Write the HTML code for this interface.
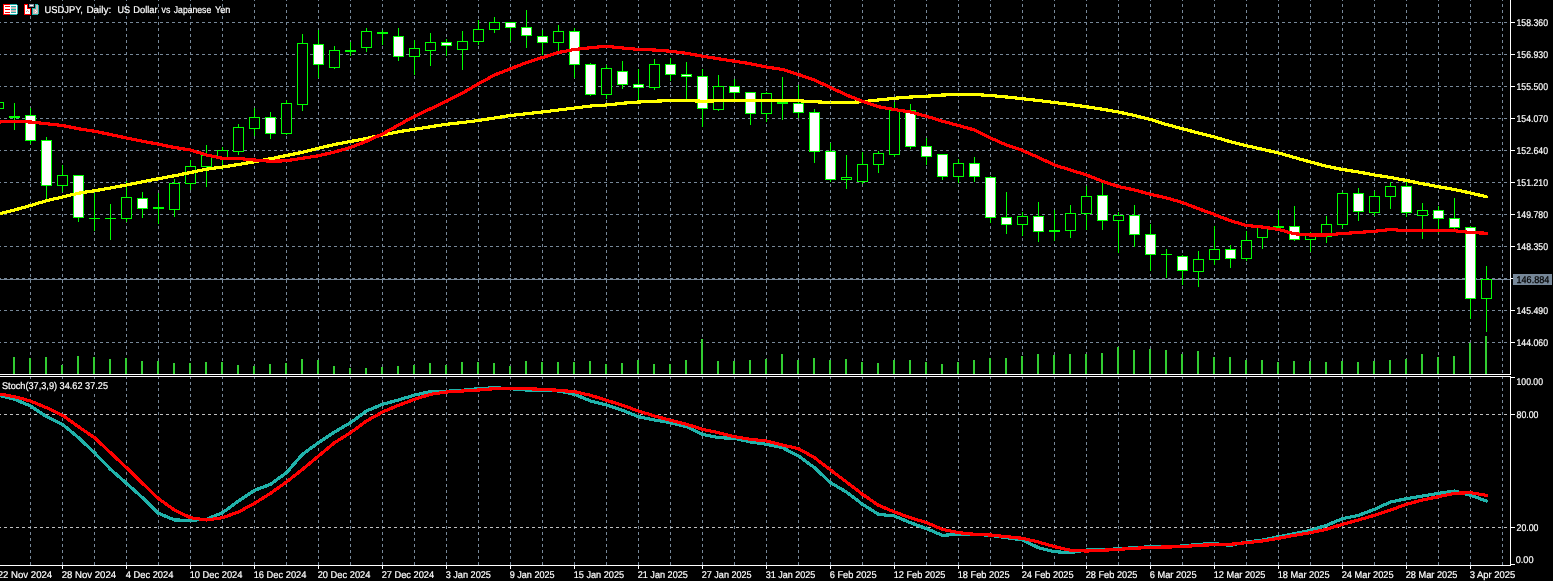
<!DOCTYPE html>
<html><head><meta charset="utf-8"><title>USDJPY, Daily</title>
<style>
html,body{margin:0;padding:0;background:#000;overflow:hidden}
svg{display:block}
text{font-family:"Liberation Sans",sans-serif;font-size:9.8px;fill:#fff;stroke:#fff;stroke-width:0.2px;text-rendering:geometricPrecision}
</style></head><body>
<svg width="1553" height="581" viewBox="0 0 1553 581">
<rect width="1553" height="581" fill="#000"/>
<g shape-rendering="crispEdges">
<g stroke="#778899" stroke-width="1" stroke-dasharray="3 3" fill="none">
<line x1="30.5" y1="-2" x2="30.5" y2="565"/>
<line x1="62.5" y1="-2" x2="62.5" y2="565"/>
<line x1="94.5" y1="-2" x2="94.5" y2="565"/>
<line x1="126.5" y1="-2" x2="126.5" y2="565"/>
<line x1="158.5" y1="-2" x2="158.5" y2="565"/>
<line x1="190.5" y1="-2" x2="190.5" y2="565"/>
<line x1="222.5" y1="-2" x2="222.5" y2="565"/>
<line x1="254.5" y1="-2" x2="254.5" y2="565"/>
<line x1="286.5" y1="-2" x2="286.5" y2="565"/>
<line x1="318.5" y1="-2" x2="318.5" y2="565"/>
<line x1="350.5" y1="-2" x2="350.5" y2="565"/>
<line x1="382.5" y1="-2" x2="382.5" y2="565"/>
<line x1="414.5" y1="-2" x2="414.5" y2="565"/>
<line x1="446.5" y1="-2" x2="446.5" y2="565"/>
<line x1="478.5" y1="-2" x2="478.5" y2="565"/>
<line x1="510.5" y1="-2" x2="510.5" y2="565"/>
<line x1="542.5" y1="-2" x2="542.5" y2="565"/>
<line x1="574.5" y1="-2" x2="574.5" y2="565"/>
<line x1="606.5" y1="-2" x2="606.5" y2="565"/>
<line x1="638.5" y1="-2" x2="638.5" y2="565"/>
<line x1="670.5" y1="-2" x2="670.5" y2="565"/>
<line x1="702.5" y1="-2" x2="702.5" y2="565"/>
<line x1="734.5" y1="-2" x2="734.5" y2="565"/>
<line x1="766.5" y1="-2" x2="766.5" y2="565"/>
<line x1="798.5" y1="-2" x2="798.5" y2="565"/>
<line x1="830.5" y1="-2" x2="830.5" y2="565"/>
<line x1="862.5" y1="-2" x2="862.5" y2="565"/>
<line x1="894.5" y1="-2" x2="894.5" y2="565"/>
<line x1="926.5" y1="-2" x2="926.5" y2="565"/>
<line x1="958.5" y1="-2" x2="958.5" y2="565"/>
<line x1="990.5" y1="-2" x2="990.5" y2="565"/>
<line x1="1022.5" y1="-2" x2="1022.5" y2="565"/>
<line x1="1054.5" y1="-2" x2="1054.5" y2="565"/>
<line x1="1086.5" y1="-2" x2="1086.5" y2="565"/>
<line x1="1118.5" y1="-2" x2="1118.5" y2="565"/>
<line x1="1150.5" y1="-2" x2="1150.5" y2="565"/>
<line x1="1182.5" y1="-2" x2="1182.5" y2="565"/>
<line x1="1214.5" y1="-2" x2="1214.5" y2="565"/>
<line x1="1246.5" y1="-2" x2="1246.5" y2="565"/>
<line x1="1278.5" y1="-2" x2="1278.5" y2="565"/>
<line x1="1310.5" y1="-2" x2="1310.5" y2="565"/>
<line x1="1342.5" y1="-2" x2="1342.5" y2="565"/>
<line x1="1374.5" y1="-2" x2="1374.5" y2="565"/>
<line x1="1406.5" y1="-2" x2="1406.5" y2="565"/>
<line x1="1438.5" y1="-2" x2="1438.5" y2="565"/>
<line x1="1470.5" y1="-2" x2="1470.5" y2="565"/>
<line x1="1502.5" y1="-2" x2="1502.5" y2="565"/>
<line x1="-2" y1="22.5" x2="1510" y2="22.5"/>
<line x1="-2" y1="54.5" x2="1510" y2="54.5"/>
<line x1="-2" y1="86.5" x2="1510" y2="86.5"/>
<line x1="-2" y1="118.5" x2="1510" y2="118.5"/>
<line x1="-2" y1="150.5" x2="1510" y2="150.5"/>
<line x1="-2" y1="182.5" x2="1510" y2="182.5"/>
<line x1="-2" y1="214.5" x2="1510" y2="214.5"/>
<line x1="-2" y1="246.5" x2="1510" y2="246.5"/>
<line x1="-2" y1="278.5" x2="1510" y2="278.5"/>
<line x1="-2" y1="310.5" x2="1510" y2="310.5"/>
<line x1="-2" y1="342.5" x2="1510" y2="342.5"/>
</g>
<g stroke="#c0c0c0" stroke-width="1" stroke-dasharray="3 3" fill="none">
<line x1="-2" y1="414.5" x2="1510" y2="414.5"/>
<line x1="-2" y1="527.5" x2="1510" y2="527.5"/>
</g>
<rect x="0" y="279" width="1510" height="1" fill="#778899"/>
<g fill="#32cd32">
<rect x="13" y="357" width="2" height="17"/>
<rect x="29" y="358" width="2" height="16"/>
<rect x="45" y="357" width="2" height="17"/>
<rect x="61" y="365" width="2" height="9"/>
<rect x="77" y="356" width="2" height="18"/>
<rect x="93" y="357" width="2" height="17"/>
<rect x="109" y="359" width="2" height="15"/>
<rect x="125" y="358" width="2" height="16"/>
<rect x="141" y="361" width="2" height="13"/>
<rect x="157" y="361" width="2" height="13"/>
<rect x="173" y="363" width="2" height="11"/>
<rect x="189" y="363" width="2" height="11"/>
<rect x="205" y="362" width="2" height="12"/>
<rect x="221" y="362" width="2" height="12"/>
<rect x="237" y="365" width="2" height="9"/>
<rect x="253" y="366" width="2" height="8"/>
<rect x="269" y="364" width="2" height="10"/>
<rect x="285" y="363" width="2" height="11"/>
<rect x="301" y="359" width="2" height="15"/>
<rect x="317" y="360" width="2" height="14"/>
<rect x="333" y="366" width="2" height="8"/>
<rect x="349" y="368" width="2" height="6"/>
<rect x="365" y="368" width="2" height="6"/>
<rect x="381" y="367" width="2" height="7"/>
<rect x="397" y="366" width="2" height="8"/>
<rect x="413" y="365" width="2" height="9"/>
<rect x="429" y="363" width="2" height="11"/>
<rect x="445" y="365" width="2" height="9"/>
<rect x="461" y="362" width="2" height="12"/>
<rect x="477" y="362" width="2" height="12"/>
<rect x="493" y="363" width="2" height="11"/>
<rect x="509" y="366" width="2" height="8"/>
<rect x="525" y="361" width="2" height="13"/>
<rect x="541" y="362" width="2" height="12"/>
<rect x="557" y="362" width="2" height="12"/>
<rect x="573" y="362" width="2" height="12"/>
<rect x="589" y="361" width="2" height="13"/>
<rect x="605" y="364" width="2" height="10"/>
<rect x="621" y="363" width="2" height="11"/>
<rect x="637" y="360" width="2" height="14"/>
<rect x="653" y="364" width="2" height="10"/>
<rect x="669" y="364" width="2" height="10"/>
<rect x="685" y="360" width="2" height="14"/>
<rect x="701" y="339" width="2" height="35"/>
<rect x="717" y="361" width="2" height="13"/>
<rect x="733" y="361" width="2" height="13"/>
<rect x="749" y="360" width="2" height="14"/>
<rect x="765" y="359" width="2" height="15"/>
<rect x="781" y="354" width="2" height="20"/>
<rect x="797" y="360" width="2" height="14"/>
<rect x="813" y="358" width="2" height="16"/>
<rect x="829" y="360" width="2" height="14"/>
<rect x="845" y="359" width="2" height="15"/>
<rect x="861" y="362" width="2" height="12"/>
<rect x="877" y="363" width="2" height="11"/>
<rect x="893" y="360" width="2" height="14"/>
<rect x="909" y="360" width="2" height="14"/>
<rect x="925" y="362" width="2" height="12"/>
<rect x="941" y="364" width="2" height="10"/>
<rect x="957" y="362" width="2" height="12"/>
<rect x="973" y="360" width="2" height="14"/>
<rect x="989" y="358" width="2" height="16"/>
<rect x="1005" y="358" width="2" height="16"/>
<rect x="1021" y="356" width="2" height="18"/>
<rect x="1037" y="354" width="2" height="20"/>
<rect x="1053" y="355" width="2" height="19"/>
<rect x="1069" y="354" width="2" height="20"/>
<rect x="1085" y="354" width="2" height="20"/>
<rect x="1101" y="353" width="2" height="21"/>
<rect x="1117" y="347" width="2" height="27"/>
<rect x="1133" y="350" width="2" height="24"/>
<rect x="1149" y="349" width="2" height="25"/>
<rect x="1165" y="350" width="2" height="24"/>
<rect x="1181" y="354" width="2" height="20"/>
<rect x="1197" y="351" width="2" height="23"/>
<rect x="1213" y="357" width="2" height="17"/>
<rect x="1229" y="357" width="2" height="17"/>
<rect x="1245" y="360" width="2" height="14"/>
<rect x="1261" y="360" width="2" height="14"/>
<rect x="1277" y="362" width="2" height="12"/>
<rect x="1293" y="361" width="2" height="13"/>
<rect x="1309" y="361" width="2" height="13"/>
<rect x="1325" y="362" width="2" height="12"/>
<rect x="1341" y="361" width="2" height="13"/>
<rect x="1357" y="362" width="2" height="12"/>
<rect x="1373" y="361" width="2" height="13"/>
<rect x="1389" y="360" width="2" height="14"/>
<rect x="1405" y="359" width="2" height="15"/>
<rect x="1421" y="354" width="2" height="20"/>
<rect x="1437" y="357" width="2" height="17"/>
<rect x="1453" y="356" width="2" height="18"/>
<rect x="1469" y="343" width="2" height="31"/>
<rect x="1485" y="336" width="2" height="38"/>
</g>
<g fill="#00ff00">
<rect x="-2" y="100" width="1" height="13"/>
<rect x="-7" y="102" width="11" height="7"/>
<rect x="-6" y="103" width="9" height="5" fill="#000"/>
<rect x="14" y="103" width="1" height="27"/>
<rect x="9" y="116" width="11" height="2"/>
<rect x="30" y="108" width="1" height="36"/>
<rect x="25" y="115" width="11" height="26"/>
<rect x="26" y="116" width="9" height="24" fill="#fff"/>
<rect x="46" y="137" width="1" height="62"/>
<rect x="41" y="140" width="11" height="46"/>
<rect x="42" y="141" width="9" height="44" fill="#fff"/>
<rect x="62" y="165" width="1" height="27"/>
<rect x="57" y="175" width="11" height="11"/>
<rect x="58" y="176" width="9" height="9" fill="#000"/>
<rect x="78" y="175" width="1" height="47"/>
<rect x="73" y="175" width="11" height="43"/>
<rect x="74" y="176" width="9" height="41" fill="#fff"/>
<rect x="94" y="193" width="1" height="38"/>
<rect x="89" y="218" width="11" height="1"/>
<rect x="110" y="204" width="1" height="36"/>
<rect x="105" y="218" width="11" height="1"/>
<rect x="126" y="181" width="1" height="41"/>
<rect x="121" y="197" width="11" height="22"/>
<rect x="122" y="198" width="9" height="20" fill="#000"/>
<rect x="142" y="192" width="1" height="26"/>
<rect x="137" y="198" width="11" height="11"/>
<rect x="138" y="199" width="9" height="9" fill="#fff"/>
<rect x="158" y="193" width="1" height="31"/>
<rect x="153" y="207" width="11" height="2"/>
<rect x="174" y="179" width="1" height="38"/>
<rect x="169" y="183" width="11" height="27"/>
<rect x="170" y="184" width="9" height="25" fill="#000"/>
<rect x="190" y="160" width="1" height="30"/>
<rect x="185" y="166" width="11" height="18"/>
<rect x="186" y="167" width="9" height="16" fill="#000"/>
<rect x="206" y="145" width="1" height="42"/>
<rect x="201" y="155" width="11" height="12"/>
<rect x="202" y="156" width="9" height="10" fill="#000"/>
<rect x="222" y="147" width="1" height="23"/>
<rect x="217" y="150" width="11" height="8"/>
<rect x="218" y="151" width="9" height="6" fill="#000"/>
<rect x="238" y="124" width="1" height="31"/>
<rect x="233" y="127" width="11" height="25"/>
<rect x="234" y="128" width="9" height="23" fill="#000"/>
<rect x="254" y="108" width="1" height="28"/>
<rect x="249" y="117" width="11" height="12"/>
<rect x="250" y="118" width="9" height="10" fill="#000"/>
<rect x="270" y="112" width="1" height="27"/>
<rect x="265" y="117" width="11" height="17"/>
<rect x="266" y="118" width="9" height="15" fill="#fff"/>
<rect x="286" y="100" width="1" height="35"/>
<rect x="281" y="103" width="11" height="31"/>
<rect x="282" y="104" width="9" height="29" fill="#000"/>
<rect x="302" y="34" width="1" height="77"/>
<rect x="297" y="43" width="11" height="62"/>
<rect x="298" y="44" width="9" height="60" fill="#000"/>
<rect x="318" y="30" width="1" height="48"/>
<rect x="313" y="44" width="11" height="21"/>
<rect x="314" y="45" width="9" height="19" fill="#fff"/>
<rect x="334" y="46" width="1" height="23"/>
<rect x="329" y="50" width="11" height="18"/>
<rect x="330" y="51" width="9" height="16" fill="#000"/>
<rect x="350" y="42" width="1" height="14"/>
<rect x="345" y="50" width="11" height="2"/>
<rect x="366" y="28" width="1" height="24"/>
<rect x="361" y="31" width="11" height="17"/>
<rect x="362" y="32" width="9" height="15" fill="#000"/>
<rect x="382" y="30" width="1" height="15"/>
<rect x="377" y="32" width="11" height="2"/>
<rect x="398" y="28" width="1" height="33"/>
<rect x="393" y="36" width="11" height="21"/>
<rect x="394" y="37" width="9" height="19" fill="#fff"/>
<rect x="414" y="40" width="1" height="35"/>
<rect x="409" y="48" width="11" height="9"/>
<rect x="410" y="49" width="9" height="7" fill="#000"/>
<rect x="430" y="33" width="1" height="33"/>
<rect x="425" y="42" width="11" height="9"/>
<rect x="426" y="43" width="9" height="7" fill="#000"/>
<rect x="446" y="39" width="1" height="17"/>
<rect x="441" y="42" width="11" height="4"/>
<rect x="442" y="43" width="9" height="2" fill="#fff"/>
<rect x="462" y="31" width="1" height="39"/>
<rect x="457" y="41" width="11" height="9"/>
<rect x="458" y="42" width="9" height="7" fill="#000"/>
<rect x="478" y="20" width="1" height="25"/>
<rect x="473" y="29" width="11" height="13"/>
<rect x="474" y="30" width="9" height="11" fill="#000"/>
<rect x="494" y="17" width="1" height="16"/>
<rect x="489" y="22" width="11" height="8"/>
<rect x="490" y="23" width="9" height="6" fill="#000"/>
<rect x="510" y="22" width="1" height="19"/>
<rect x="505" y="22" width="11" height="6"/>
<rect x="506" y="23" width="9" height="4" fill="#fff"/>
<rect x="526" y="10" width="1" height="38"/>
<rect x="521" y="27" width="11" height="9"/>
<rect x="522" y="28" width="9" height="7" fill="#fff"/>
<rect x="542" y="30" width="1" height="25"/>
<rect x="537" y="36" width="11" height="7"/>
<rect x="538" y="37" width="9" height="5" fill="#fff"/>
<rect x="558" y="25" width="1" height="26"/>
<rect x="553" y="31" width="11" height="12"/>
<rect x="554" y="32" width="9" height="10" fill="#000"/>
<rect x="574" y="28" width="1" height="50"/>
<rect x="569" y="31" width="11" height="34"/>
<rect x="570" y="32" width="9" height="32" fill="#fff"/>
<rect x="590" y="63" width="1" height="33"/>
<rect x="585" y="64" width="11" height="31"/>
<rect x="586" y="65" width="9" height="29" fill="#fff"/>
<rect x="606" y="65" width="1" height="34"/>
<rect x="601" y="68" width="11" height="27"/>
<rect x="602" y="69" width="9" height="25" fill="#000"/>
<rect x="622" y="61" width="1" height="28"/>
<rect x="617" y="71" width="11" height="14"/>
<rect x="618" y="72" width="9" height="12" fill="#fff"/>
<rect x="638" y="69" width="1" height="33"/>
<rect x="633" y="84" width="11" height="4"/>
<rect x="634" y="85" width="9" height="2" fill="#fff"/>
<rect x="654" y="59" width="1" height="31"/>
<rect x="649" y="64" width="11" height="24"/>
<rect x="650" y="65" width="9" height="22" fill="#000"/>
<rect x="670" y="58" width="1" height="23"/>
<rect x="665" y="64" width="11" height="11"/>
<rect x="666" y="65" width="9" height="9" fill="#fff"/>
<rect x="686" y="62" width="1" height="37"/>
<rect x="681" y="74" width="11" height="3"/>
<rect x="682" y="75" width="9" height="1" fill="#fff"/>
<rect x="702" y="69" width="1" height="58"/>
<rect x="697" y="76" width="11" height="33"/>
<rect x="698" y="77" width="9" height="31" fill="#fff"/>
<rect x="718" y="75" width="1" height="36"/>
<rect x="713" y="86" width="11" height="24"/>
<rect x="714" y="87" width="9" height="22" fill="#000"/>
<rect x="734" y="79" width="1" height="20"/>
<rect x="729" y="86" width="11" height="7"/>
<rect x="730" y="87" width="9" height="5" fill="#fff"/>
<rect x="750" y="92" width="1" height="33"/>
<rect x="745" y="92" width="11" height="22"/>
<rect x="746" y="93" width="9" height="20" fill="#fff"/>
<rect x="766" y="92" width="1" height="30"/>
<rect x="761" y="93" width="11" height="21"/>
<rect x="762" y="94" width="9" height="19" fill="#000"/>
<rect x="782" y="77" width="1" height="43"/>
<rect x="777" y="102" width="11" height="2"/>
<rect x="798" y="85" width="1" height="33"/>
<rect x="793" y="103" width="11" height="10"/>
<rect x="794" y="104" width="9" height="8" fill="#fff"/>
<rect x="814" y="109" width="1" height="54"/>
<rect x="809" y="112" width="11" height="40"/>
<rect x="810" y="113" width="9" height="38" fill="#fff"/>
<rect x="830" y="143" width="1" height="39"/>
<rect x="825" y="151" width="11" height="29"/>
<rect x="826" y="152" width="9" height="27" fill="#fff"/>
<rect x="846" y="155" width="1" height="34"/>
<rect x="841" y="177" width="11" height="3"/>
<rect x="842" y="178" width="9" height="1" fill="#000"/>
<rect x="862" y="152" width="1" height="32"/>
<rect x="857" y="164" width="11" height="18"/>
<rect x="858" y="165" width="9" height="16" fill="#000"/>
<rect x="878" y="151" width="1" height="22"/>
<rect x="873" y="153" width="11" height="12"/>
<rect x="874" y="154" width="9" height="10" fill="#000"/>
<rect x="894" y="102" width="1" height="55"/>
<rect x="889" y="110" width="11" height="45"/>
<rect x="890" y="111" width="9" height="43" fill="#000"/>
<rect x="910" y="104" width="1" height="45"/>
<rect x="905" y="110" width="11" height="37"/>
<rect x="906" y="111" width="9" height="35" fill="#fff"/>
<rect x="926" y="138" width="1" height="27"/>
<rect x="921" y="146" width="11" height="11"/>
<rect x="922" y="147" width="9" height="9" fill="#fff"/>
<rect x="942" y="154" width="1" height="26"/>
<rect x="937" y="154" width="11" height="23"/>
<rect x="938" y="155" width="9" height="21" fill="#fff"/>
<rect x="958" y="159" width="1" height="24"/>
<rect x="953" y="163" width="11" height="14"/>
<rect x="954" y="164" width="9" height="12" fill="#000"/>
<rect x="974" y="157" width="1" height="25"/>
<rect x="969" y="163" width="11" height="14"/>
<rect x="970" y="164" width="9" height="12" fill="#fff"/>
<rect x="990" y="176" width="1" height="47"/>
<rect x="985" y="177" width="11" height="41"/>
<rect x="986" y="178" width="9" height="39" fill="#fff"/>
<rect x="1006" y="192" width="1" height="42"/>
<rect x="1001" y="217" width="11" height="8"/>
<rect x="1002" y="218" width="9" height="6" fill="#fff"/>
<rect x="1022" y="212" width="1" height="24"/>
<rect x="1017" y="216" width="11" height="9"/>
<rect x="1018" y="217" width="9" height="7" fill="#000"/>
<rect x="1038" y="202" width="1" height="40"/>
<rect x="1033" y="216" width="11" height="16"/>
<rect x="1034" y="217" width="9" height="14" fill="#fff"/>
<rect x="1054" y="210" width="1" height="31"/>
<rect x="1049" y="230" width="11" height="2"/>
<rect x="1070" y="205" width="1" height="33"/>
<rect x="1065" y="213" width="11" height="18"/>
<rect x="1066" y="214" width="9" height="16" fill="#000"/>
<rect x="1086" y="186" width="1" height="44"/>
<rect x="1081" y="196" width="11" height="18"/>
<rect x="1082" y="197" width="9" height="16" fill="#000"/>
<rect x="1102" y="183" width="1" height="47"/>
<rect x="1097" y="195" width="11" height="26"/>
<rect x="1098" y="196" width="9" height="24" fill="#fff"/>
<rect x="1118" y="212" width="1" height="41"/>
<rect x="1113" y="215" width="11" height="6"/>
<rect x="1114" y="216" width="9" height="4" fill="#000"/>
<rect x="1134" y="205" width="1" height="42"/>
<rect x="1129" y="215" width="11" height="20"/>
<rect x="1130" y="216" width="9" height="18" fill="#fff"/>
<rect x="1150" y="224" width="1" height="47"/>
<rect x="1145" y="234" width="11" height="21"/>
<rect x="1146" y="235" width="9" height="19" fill="#fff"/>
<rect x="1166" y="249" width="1" height="29"/>
<rect x="1161" y="254" width="11" height="1"/>
<rect x="1182" y="255" width="1" height="30"/>
<rect x="1177" y="256" width="11" height="15"/>
<rect x="1178" y="257" width="9" height="13" fill="#fff"/>
<rect x="1198" y="251" width="1" height="36"/>
<rect x="1193" y="259" width="11" height="13"/>
<rect x="1194" y="260" width="9" height="11" fill="#000"/>
<rect x="1214" y="226" width="1" height="39"/>
<rect x="1209" y="249" width="11" height="11"/>
<rect x="1210" y="250" width="9" height="9" fill="#000"/>
<rect x="1230" y="245" width="1" height="23"/>
<rect x="1225" y="249" width="11" height="10"/>
<rect x="1226" y="250" width="9" height="8" fill="#fff"/>
<rect x="1246" y="231" width="1" height="30"/>
<rect x="1241" y="240" width="11" height="19"/>
<rect x="1242" y="241" width="9" height="17" fill="#000"/>
<rect x="1262" y="225" width="1" height="24"/>
<rect x="1257" y="226" width="11" height="12"/>
<rect x="1258" y="227" width="9" height="10" fill="#000"/>
<rect x="1278" y="210" width="1" height="20"/>
<rect x="1273" y="226" width="11" height="2"/>
<rect x="1294" y="206" width="1" height="35"/>
<rect x="1289" y="226" width="11" height="14"/>
<rect x="1290" y="227" width="9" height="12" fill="#fff"/>
<rect x="1310" y="232" width="1" height="20"/>
<rect x="1305" y="234" width="11" height="6"/>
<rect x="1306" y="235" width="9" height="4" fill="#000"/>
<rect x="1326" y="216" width="1" height="27"/>
<rect x="1321" y="224" width="11" height="13"/>
<rect x="1322" y="225" width="9" height="11" fill="#000"/>
<rect x="1342" y="192" width="1" height="36"/>
<rect x="1337" y="193" width="11" height="32"/>
<rect x="1338" y="194" width="9" height="30" fill="#000"/>
<rect x="1358" y="188" width="1" height="33"/>
<rect x="1353" y="193" width="11" height="19"/>
<rect x="1354" y="194" width="9" height="17" fill="#fff"/>
<rect x="1374" y="191" width="1" height="25"/>
<rect x="1369" y="196" width="11" height="17"/>
<rect x="1370" y="197" width="9" height="15" fill="#000"/>
<rect x="1390" y="182" width="1" height="27"/>
<rect x="1385" y="186" width="11" height="11"/>
<rect x="1386" y="187" width="9" height="9" fill="#000"/>
<rect x="1406" y="182" width="1" height="35"/>
<rect x="1401" y="186" width="11" height="27"/>
<rect x="1402" y="187" width="9" height="25" fill="#fff"/>
<rect x="1422" y="203" width="1" height="36"/>
<rect x="1417" y="210" width="11" height="6"/>
<rect x="1418" y="211" width="9" height="4" fill="#000"/>
<rect x="1438" y="206" width="1" height="27"/>
<rect x="1433" y="210" width="11" height="9"/>
<rect x="1434" y="211" width="9" height="7" fill="#fff"/>
<rect x="1454" y="198" width="1" height="31"/>
<rect x="1449" y="218" width="11" height="10"/>
<rect x="1450" y="219" width="9" height="8" fill="#fff"/>
<rect x="1470" y="226" width="1" height="93"/>
<rect x="1465" y="227" width="11" height="72"/>
<rect x="1466" y="228" width="9" height="70" fill="#fff"/>
<rect x="1486" y="266" width="1" height="66"/>
<rect x="1481" y="279" width="11" height="20"/>
<rect x="1482" y="280" width="9" height="18" fill="#000"/>
</g>
<polyline points="-1.5,214.00 14.5,210.00 30.5,205.50 46.5,200.70 62.5,197.00 78.5,193.20 94.5,190.75 110.5,188.00 126.5,185.00 142.5,181.75 158.5,178.75 174.5,175.75 190.5,172.50 206.5,169.25 222.5,167.00 238.5,164.50 254.5,161.75 270.5,158.75 286.5,155.50 302.5,152.30 318.5,148.20 334.5,144.50 350.5,141.50 366.5,138.40 382.5,135.00 398.5,131.75 414.5,129.25 430.5,126.75 446.5,124.25 462.5,122.50 478.5,120.50 494.5,118.00 510.5,115.50 526.5,113.75 542.5,112.00 558.5,110.00 574.5,108.00 590.5,106.00 606.5,105.00 622.5,103.25 638.5,102.00 654.5,101.25 670.5,100.50 686.5,100.50 702.5,101.25 718.5,100.75 734.5,100.75 750.5,100.75 766.5,100.75 782.5,100.75 798.5,100.75 814.5,101.75 830.5,102.50 846.5,102.50 862.5,101.75 878.5,100.00 894.5,98.25 910.5,97.00 926.5,96.25 942.5,95.00 958.5,94.50 974.5,94.50 990.5,95.50 1006.5,97.00 1022.5,98.75 1038.5,100.50 1054.5,102.50 1070.5,104.50 1086.5,106.75 1102.5,109.25 1118.5,112.00 1134.5,115.50 1150.5,119.50 1166.5,124.50 1182.5,128.75 1198.5,133.00 1214.5,137.00 1230.5,141.75 1246.5,145.75 1262.5,149.25 1278.5,153.00 1294.5,157.50 1310.5,162.00 1326.5,166.25 1342.5,169.50 1358.5,172.00 1374.5,175.00 1390.5,177.50 1406.5,180.50 1422.5,183.75 1438.5,186.75 1454.5,189.50 1470.5,193.00 1486.5,196.75" fill="none" stroke="#ffff00" stroke-width="3.2" stroke-linejoin="round" stroke-linecap="round"/>
<polyline points="-1.5,122.00 14.5,121.25 30.5,122.00 46.5,123.75 62.5,125.50 78.5,128.75 94.5,131.25 110.5,134.50 126.5,138.00 142.5,141.25 158.5,144.25 174.5,147.50 190.5,150.00 206.5,155.00 222.5,158.30 238.5,158.50 254.5,160.00 270.5,161.25 286.5,160.75 302.5,158.25 318.5,155.75 334.5,152.00 350.5,147.50 366.5,141.25 382.5,134.00 398.5,125.00 414.5,116.25 430.5,108.75 446.5,101.25 462.5,93.00 478.5,83.75 494.5,75.00 510.5,68.75 526.5,62.50 542.5,57.50 558.5,52.50 574.5,49.50 590.5,47.75 606.5,46.25 622.5,48.00 638.5,49.40 654.5,50.00 670.5,51.25 686.5,53.25 702.5,56.25 718.5,58.75 734.5,61.25 750.5,63.75 766.5,67.00 782.5,69.50 798.5,74.50 814.5,80.00 830.5,87.50 846.5,95.00 862.5,101.25 878.5,106.75 894.5,109.50 910.5,112.00 926.5,116.25 942.5,121.25 958.5,125.50 974.5,130.00 990.5,138.00 1006.5,145.00 1022.5,150.50 1038.5,157.50 1054.5,165.00 1070.5,170.00 1086.5,175.00 1102.5,181.25 1118.5,186.50 1134.5,190.00 1150.5,194.25 1166.5,198.00 1182.5,202.50 1198.5,208.75 1214.5,214.50 1230.5,220.75 1246.5,225.50 1262.5,227.00 1278.5,229.50 1294.5,233.75 1310.5,235.00 1326.5,235.00 1342.5,233.50 1358.5,232.50 1374.5,231.25 1390.5,229.50 1406.5,230.75 1422.5,230.75 1438.5,230.75 1454.5,230.75 1470.5,232.50 1486.5,233.25" fill="none" stroke="#ff0000" stroke-width="3.2" stroke-linejoin="round" stroke-linecap="round"/>
<polyline points="-1.5,395.30 14.5,399.30 30.5,406.00 46.5,416.70 62.5,424.30 78.5,437.70 94.5,452.70 110.5,469.30 126.5,483.30 142.5,497.70 158.5,513.30 174.5,520.00 190.5,520.30 206.5,519.30 222.5,512.70 238.5,501.00 254.5,490.30 270.5,484.30 286.5,472.70 302.5,454.30 318.5,442.70 334.5,432.00 350.5,422.70 366.5,411.00 382.5,404.30 398.5,400.00 414.5,395.00 430.5,391.70 446.5,391.30 462.5,390.30 478.5,388.70 494.5,387.70 510.5,388.70 526.5,390.00 542.5,390.00 558.5,391.00 574.5,394.30 590.5,401.00 606.5,405.00 622.5,410.30 638.5,416.70 654.5,420.00 670.5,422.70 686.5,426.70 702.5,434.30 718.5,437.70 734.5,438.30 750.5,442.00 766.5,444.30 782.5,447.70 798.5,456.00 814.5,467.70 830.5,482.70 846.5,492.00 862.5,504.30 878.5,514.30 894.5,516.00 910.5,522.70 926.5,528.70 942.5,535.30 958.5,534.30 974.5,534.30 990.5,535.30 1006.5,537.70 1022.5,540.00 1038.5,547.70 1054.5,551.70 1070.5,552.70 1086.5,550.00 1102.5,550.00 1118.5,548.70 1134.5,547.70 1150.5,546.70 1166.5,546.70 1182.5,546.00 1198.5,544.30 1214.5,543.70 1230.5,545.30 1246.5,542.00 1262.5,540.00 1278.5,536.70 1294.5,533.70 1310.5,530.30 1326.5,525.30 1342.5,518.70 1358.5,515.30 1374.5,509.30 1390.5,502.00 1406.5,498.70 1422.5,496.00 1438.5,493.30 1454.5,491.00 1470.5,495.30 1486.5,501.00" fill="none" stroke="#20b2aa" stroke-width="3.2" stroke-linejoin="round" stroke-linecap="round"/>
<polyline points="-1.5,393.70 14.5,396.70 30.5,401.00 46.5,407.70 62.5,415.30 78.5,426.70 94.5,437.70 110.5,452.70 126.5,467.70 142.5,483.30 158.5,498.70 174.5,510.00 190.5,517.70 206.5,520.00 222.5,517.70 238.5,512.00 254.5,503.30 270.5,493.30 286.5,482.00 302.5,469.30 318.5,456.00 334.5,442.70 350.5,432.70 366.5,421.00 382.5,412.00 398.5,405.30 414.5,399.30 430.5,394.30 446.5,392.00 462.5,391.00 478.5,390.00 494.5,388.70 510.5,388.70 526.5,388.70 542.5,389.30 558.5,390.30 574.5,391.70 590.5,395.30 606.5,400.30 622.5,405.30 638.5,411.00 654.5,416.00 670.5,420.30 686.5,424.30 702.5,429.30 718.5,432.70 734.5,436.70 750.5,439.30 766.5,441.00 782.5,445.00 798.5,448.70 814.5,457.70 830.5,470.00 846.5,482.00 862.5,494.30 878.5,505.30 894.5,512.00 910.5,517.70 926.5,522.70 942.5,529.30 958.5,532.70 974.5,534.30 990.5,535.00 1006.5,536.70 1022.5,538.30 1038.5,542.00 1054.5,546.70 1070.5,550.30 1086.5,551.00 1102.5,550.30 1118.5,549.30 1134.5,548.30 1150.5,547.30 1166.5,547.00 1182.5,546.70 1198.5,545.30 1214.5,544.70 1230.5,544.30 1246.5,542.70 1262.5,541.00 1278.5,538.30 1294.5,535.30 1310.5,532.70 1326.5,529.30 1342.5,524.30 1358.5,520.00 1374.5,515.30 1390.5,510.00 1406.5,504.30 1422.5,500.00 1438.5,496.70 1454.5,493.30 1470.5,492.70 1486.5,495.30" fill="none" stroke="#ff0000" stroke-width="3.2" stroke-linejoin="round" stroke-linecap="round"/>
<g fill="#fff">
<rect x="0" y="374" width="1511" height="1"/>
<rect x="1510" y="0" width="1" height="375"/>
<rect x="0" y="376" width="1511" height="1"/>
<rect x="1510" y="376" width="1" height="190"/>
<rect x="0" y="565" width="1511" height="1"/>
<rect x="1511" y="22" width="4" height="1"/>
<rect x="1511" y="54" width="4" height="1"/>
<rect x="1511" y="86" width="4" height="1"/>
<rect x="1511" y="118" width="4" height="1"/>
<rect x="1511" y="150" width="4" height="1"/>
<rect x="1511" y="182" width="4" height="1"/>
<rect x="1511" y="214" width="4" height="1"/>
<rect x="1511" y="246" width="4" height="1"/>
<rect x="1511" y="278" width="4" height="1"/>
<rect x="1511" y="310" width="4" height="1"/>
<rect x="1511" y="342" width="4" height="1"/>
<rect x="1511" y="377" width="4" height="1"/>
<rect x="1511" y="414" width="4" height="1"/>
<rect x="1511" y="527" width="4" height="1"/>
<rect x="1511" y="564" width="4" height="1"/>
<rect x="-2" y="566" width="1" height="3"/>
<rect x="62" y="566" width="1" height="3"/>
<rect x="126" y="566" width="1" height="3"/>
<rect x="190" y="566" width="1" height="3"/>
<rect x="254" y="566" width="1" height="3"/>
<rect x="318" y="566" width="1" height="3"/>
<rect x="382" y="566" width="1" height="3"/>
<rect x="446" y="566" width="1" height="3"/>
<rect x="510" y="566" width="1" height="3"/>
<rect x="574" y="566" width="1" height="3"/>
<rect x="638" y="566" width="1" height="3"/>
<rect x="702" y="566" width="1" height="3"/>
<rect x="766" y="566" width="1" height="3"/>
<rect x="830" y="566" width="1" height="3"/>
<rect x="894" y="566" width="1" height="3"/>
<rect x="958" y="566" width="1" height="3"/>
<rect x="1022" y="566" width="1" height="3"/>
<rect x="1086" y="566" width="1" height="3"/>
<rect x="1150" y="566" width="1" height="3"/>
<rect x="1214" y="566" width="1" height="3"/>
<rect x="1278" y="566" width="1" height="3"/>
<rect x="1342" y="566" width="1" height="3"/>
<rect x="1406" y="566" width="1" height="3"/>
<rect x="1470" y="566" width="1" height="3"/>
</g>
<rect x="1513" y="274" width="39" height="11" fill="#778899"/>
</g>
<g shape-rendering="crispEdges">
<rect x="3" y="4" width="8" height="11" fill="#ff0000"/>
<rect x="10" y="4" width="7" height="11" fill="#20b2aa"/>
<rect x="17" y="5" width="1" height="9" fill="#20b2aa"/>
<rect x="4" y="5" width="13" height="9" fill="#ffffff"/>
<rect x="5" y="6" width="5" height="1" fill="#ff0000"/>
<rect x="11" y="6" width="5" height="1" fill="#20b2aa"/>
<rect x="5" y="9" width="5" height="1" fill="#ff0000"/>
<rect x="11" y="9" width="5" height="1" fill="#20b2aa"/>
<rect x="5" y="12" width="5" height="1" fill="#ff0000"/>
<rect x="11" y="12" width="5" height="1" fill="#20b2aa"/>
<rect x="11" y="7" width="5" height="2" fill="#d0bcbc"/>
<rect x="11" y="10" width="5" height="2" fill="#d0bcbc"/>
<rect x="24" y="4" width="4" height="11" fill="#ff0000"/>
<rect x="24" y="8" width="7" height="7" fill="#ff0000"/>
<rect x="25" y="5" width="2" height="9" fill="#ffffff"/>
<rect x="25" y="9" width="5" height="5" fill="#ffffff"/>
<rect x="27" y="10" width="1" height="1" fill="#b0b0b0"/>
<rect x="26" y="11" width="1" height="1" fill="#b0b0b0"/>
<rect x="28" y="11" width="1" height="1" fill="#b0b0b0"/>
<rect x="29" y="4" width="5" height="3" fill="#8492a6"/>
<rect x="30" y="5" width="3" height="1" fill="#ffffff"/>
<rect x="35" y="4" width="3" height="11" fill="#20b2aa"/>
<rect x="32" y="8" width="6" height="7" fill="#20b2aa"/>
<rect x="38" y="5" width="1" height="9" fill="#20b2aa"/>
<rect x="36" y="5" width="2" height="9" fill="#d0bcbc"/>
<rect x="33" y="9" width="5" height="5" fill="#d0bcbc"/>
<rect x="35" y="10" width="1" height="1" fill="#ffffff"/>
<rect x="36" y="11" width="1" height="1" fill="#ffffff"/>
<rect x="35" y="12" width="1" height="1" fill="#ffffff"/>
</g>
<defs><filter id="idf" x="0" y="0" width="1553" height="581" filterUnits="userSpaceOnUse" color-interpolation-filters="sRGB"><feOffset dx="0" dy="0"/></filter></defs><g filter="url(#idf)">
<text y="13" xml:space="preserve"><tspan x="44.6" textLength="38.3" lengthAdjust="spacingAndGlyphs">USDJPY,</tspan> <tspan x="86.4" textLength="24.9" lengthAdjust="spacingAndGlyphs">Daily:</tspan>  <tspan x="117.5" textLength="12.6" lengthAdjust="spacingAndGlyphs">US</tspan> <tspan x="133.2" textLength="24.4" lengthAdjust="spacingAndGlyphs">Dollar</tspan> <tspan x="161.6" textLength="8.8" lengthAdjust="spacingAndGlyphs">vs</tspan> <tspan x="173.8" textLength="37.4" lengthAdjust="spacingAndGlyphs">Japanese</tspan> <tspan x="214.9" textLength="15.4" lengthAdjust="spacingAndGlyphs">Yen</tspan></text>
<rect x="0" y="380" width="110" height="13" fill="#000"/>
<text x="2" y="389" textLength="106" lengthAdjust="spacingAndGlyphs">Stoch(37,3,9) 34.62 37.25</text>
<text x="1516.5" y="26" textLength="31.5" lengthAdjust="spacingAndGlyphs">158.360</text>
<text x="1516.5" y="58" textLength="31.5" lengthAdjust="spacingAndGlyphs">156.930</text>
<text x="1516.5" y="90" textLength="31.5" lengthAdjust="spacingAndGlyphs">155.500</text>
<text x="1516.5" y="122" textLength="31.5" lengthAdjust="spacingAndGlyphs">154.070</text>
<text x="1516.5" y="154" textLength="31.5" lengthAdjust="spacingAndGlyphs">152.640</text>
<text x="1516.5" y="186" textLength="31.5" lengthAdjust="spacingAndGlyphs">151.210</text>
<text x="1516.5" y="218" textLength="31.5" lengthAdjust="spacingAndGlyphs">149.780</text>
<text x="1516.5" y="250" textLength="31.5" lengthAdjust="spacingAndGlyphs">148.350</text>
<text x="1516.5" y="314" textLength="31.5" lengthAdjust="spacingAndGlyphs">145.490</text>
<text x="1516.5" y="346" textLength="31.5" lengthAdjust="spacingAndGlyphs">144.060</text>
<text x="1516.5" y="283" textLength="32.8" lengthAdjust="spacingAndGlyphs" style="fill:#000;stroke:#000;stroke-width:0.25px">146.884</text>
<text x="1516.5" y="385" textLength="26.5" lengthAdjust="spacingAndGlyphs">100.00</text>
<text x="1516.5" y="418" textLength="22" lengthAdjust="spacingAndGlyphs">80.00</text>
<text x="1516.5" y="531" textLength="22" lengthAdjust="spacingAndGlyphs">20.00</text>
<text x="1515.7" y="563" textLength="17.8" lengthAdjust="spacingAndGlyphs">0.00</text>
<text x="-2.3" y="578" textLength="54.45" lengthAdjust="spacingAndGlyphs">22 Nov 2024</text>
<text x="61.7" y="578" textLength="54.45" lengthAdjust="spacingAndGlyphs">28 Nov 2024</text>
<text x="125.7" y="578" textLength="47.70" lengthAdjust="spacingAndGlyphs">4 Dec 2024</text>
<text x="189.7" y="578" textLength="52.70" lengthAdjust="spacingAndGlyphs">10 Dec 2024</text>
<text x="253.7" y="578" textLength="52.70" lengthAdjust="spacingAndGlyphs">16 Dec 2024</text>
<text x="317.7" y="578" textLength="52.70" lengthAdjust="spacingAndGlyphs">20 Dec 2024</text>
<text x="381.7" y="578" textLength="52.45" lengthAdjust="spacingAndGlyphs">27 Dec 2024</text>
<text x="445.7" y="578" textLength="45.20" lengthAdjust="spacingAndGlyphs">3 Jan 2025</text>
<text x="509.7" y="578" textLength="44.95" lengthAdjust="spacingAndGlyphs">9 Jan 2025</text>
<text x="573.7" y="578" textLength="50.45" lengthAdjust="spacingAndGlyphs">15 Jan 2025</text>
<text x="637.7" y="578" textLength="50.20" lengthAdjust="spacingAndGlyphs">21 Jan 2025</text>
<text x="701.7" y="578" textLength="49.95" lengthAdjust="spacingAndGlyphs">27 Jan 2025</text>
<text x="765.7" y="578" textLength="49.70" lengthAdjust="spacingAndGlyphs">31 Jan 2025</text>
<text x="829.7" y="578" textLength="46.95" lengthAdjust="spacingAndGlyphs">6 Feb 2025</text>
<text x="893.7" y="578" textLength="51.70" lengthAdjust="spacingAndGlyphs">12 Feb 2025</text>
<text x="957.7" y="578" textLength="51.95" lengthAdjust="spacingAndGlyphs">18 Feb 2025</text>
<text x="1021.7" y="578" textLength="51.95" lengthAdjust="spacingAndGlyphs">24 Feb 2025</text>
<text x="1085.7" y="578" textLength="51.70" lengthAdjust="spacingAndGlyphs">28 Feb 2025</text>
<text x="1149.7" y="578" textLength="46.95" lengthAdjust="spacingAndGlyphs">6 Mar 2025</text>
<text x="1213.7" y="578" textLength="51.70" lengthAdjust="spacingAndGlyphs">12 Mar 2025</text>
<text x="1277.7" y="578" textLength="51.95" lengthAdjust="spacingAndGlyphs">18 Mar 2025</text>
<text x="1341.7" y="578" textLength="51.95" lengthAdjust="spacingAndGlyphs">24 Mar 2025</text>
<text x="1405.7" y="578" textLength="51.70" lengthAdjust="spacingAndGlyphs">28 Mar 2025</text>
<text x="1469.7" y="578" textLength="45.70" lengthAdjust="spacingAndGlyphs">3 Apr 2025</text>
</g>
</svg></body></html>
